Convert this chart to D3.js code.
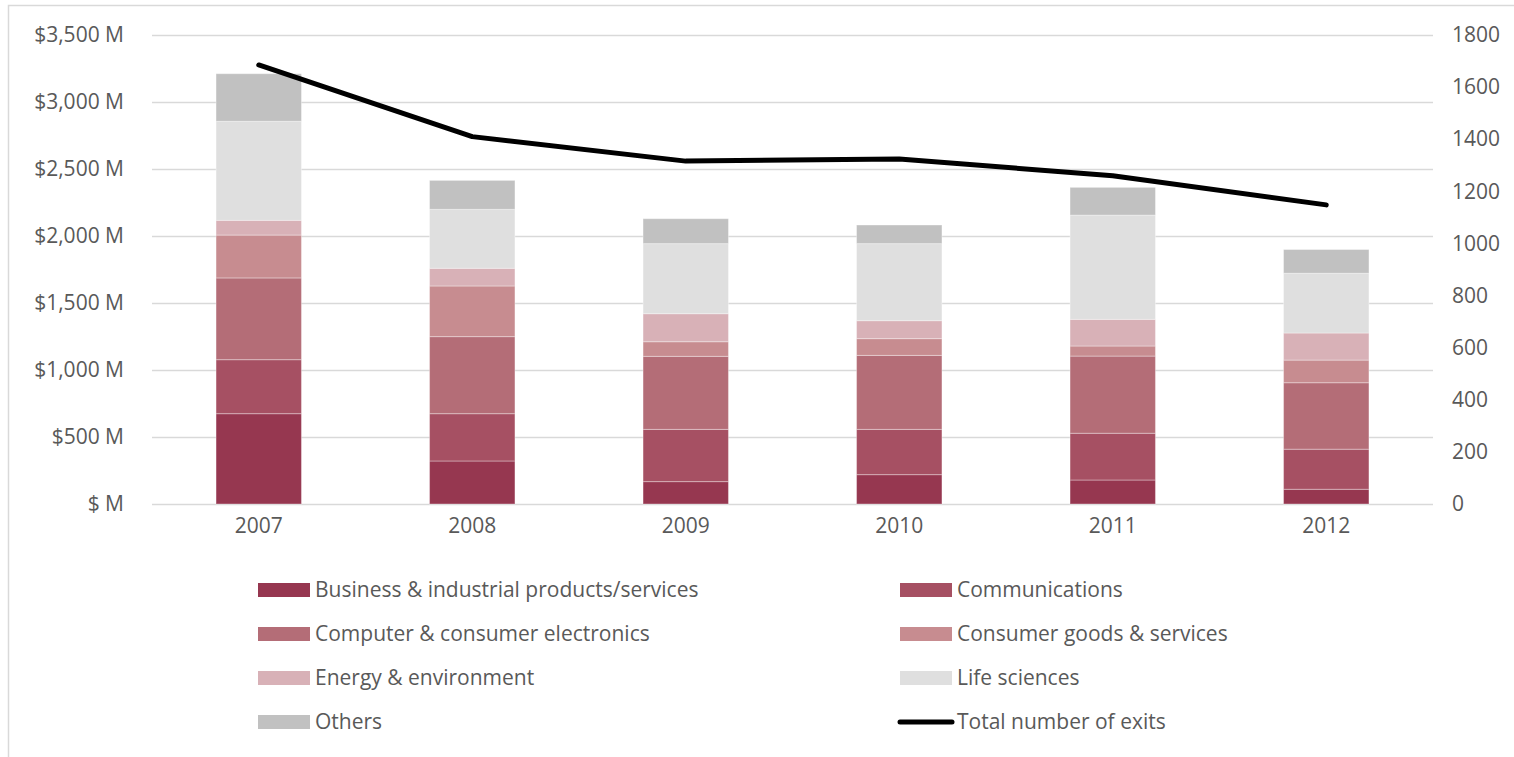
<!DOCTYPE html>
<html>
<head>
<meta charset="utf-8">
<script src="https://cdn.jsdelivr.net/npm/d3@7"></script>
<style>
  body { margin: 0; background: #fff; }
  svg text { font-family: "Open Sans", "Noto Sans", sans-serif; fill: #595959; }
</style>
</head>
<body>
<div id="chart"></div>
<script>
// data (values in $M)
var years = ["2007", "2008", "2009", "2010", "2011", "2012"];
var sectors = [
  "Business & industrial products/services",
  "Communications",
  "Computer & consumer electronics",
  "Consumer goods & services",
  "Energy & environment",
  "Life sciences",
  "Others"
];
var sectorColors = ["#963750", "#a65063", "#b46d77", "#c78c90", "#d8b1b7", "#dfdfdf", "#c1c1c1"];
var business  = [674, 321, 167, 219, 179, 110];
var comms     = [403, 353, 390, 338, 349, 299];
var computer  = [610, 575, 545, 552, 576, 496];
var consumer  = [320, 378, 109, 125, 75, 169];
var energy    = [110, 132, 209, 134, 199, 202];
var life      = [739, 440, 523, 575, 778, 446];
var others    = [355, 216, 186, 139, 207, 177];
var exits     = [1685, 1410, 1316, 1324, 1260, 1148];
var leftTicks = [0, 500, 1000, 1500, 2000, 2500, 3000, 3500];
var rightTicks = [0, 200, 400, 600, 800, 1000, 1200, 1400, 1600, 1800];

var seriesValues = [business, comms, computer, consumer, energy, life, others];

var W = 1514, H = 757;
var margin = { top: 35, right: 81, bottom: 253, left: 152 };
var width = W - margin.left - margin.right,
    height = H - margin.top - margin.bottom;

var svg = d3.select("#chart").append("svg")
  .attr("width", W).attr("height", H);

// chart border (only top and left edges show in the frame)
svg.append("rect")
  .attr("x", 8.5).attr("y", 5.5)
  .attr("width", W + 20).attr("height", H)
  .attr("fill", "none").attr("stroke", "#d9d9d9").attr("stroke-width", 1.5);

var g = svg.append("g")
  .attr("transform", "translate(" + margin.left + "," + margin.top + ")");

var x = d3.scaleBand().domain(years).range([0, width]).paddingInner(0.6).paddingOuter(0.3);
var y = d3.scaleLinear().domain([0, 3500]).range([height, 0]);
var y2 = d3.scaleLinear().domain([0, 1800]).range([height, 0]);

// gridlines
g.append("g").selectAll("line")
  .data(leftTicks)
  .enter().append("line")
  .attr("x1", 0).attr("x2", width)
  .attr("y1", d => Math.round(y(d)) + 0.5).attr("y2", d => Math.round(y(d)) + 0.5)
  .attr("stroke", "#d9d9d9").attr("stroke-width", 1.5);

// stack the data
var rows = years.map(function (yr, i) {
  var r = { year: yr };
  sectors.forEach(function (s, k) { r[s] = seriesValues[k][i]; });
  return r;
});
var stacked = d3.stack().keys(sectors)(rows);

g.append("g").selectAll("g")
  .data(stacked)
  .enter().append("g")
  .attr("fill", (d, i) => sectorColors[i])
  .selectAll("rect")
  .data(d => d)
  .enter().append("rect")
  .attr("x", d => x(d.data.year))
  .attr("width", x.bandwidth())
  .attr("y", d => y(d[1]))
  .attr("height", d => y(d[0]) - y(d[1]))
  .attr("stroke", "rgba(255,255,255,0.35)")
  .attr("stroke-width", 1);

var fs = "21px";

// left axis
var yAxis = g.append("g")
  .call(d3.axisLeft(y).tickValues(leftTicks).tickSize(0).tickPadding(28)
    .tickFormat(d => d === 0 ? "$ M" : "$" + d3.format(",")(d) + " M"));
yAxis.select(".domain").remove();
yAxis.selectAll("text").style("font-size", fs).attr("fill", "#595959");

// right axis
var y2Axis = g.append("g")
  .attr("transform", "translate(" + width + ",0)")
  .call(d3.axisRight(y2).tickValues(rightTicks).tickSize(0).tickPadding(19).tickFormat(d3.format("d")));
y2Axis.select(".domain").remove();
y2Axis.selectAll("text").style("font-size", fs).attr("fill", "#595959");

// x axis
var xAxis = g.append("g")
  .attr("transform", "translate(0," + height + ")")
  .call(d3.axisBottom(x).tickSize(0).tickPadding(14));
xAxis.select(".domain").remove();
xAxis.selectAll("text").style("font-size", fs).attr("fill", "#595959");

// exits line
var line = d3.line()
  .x((d, i) => x(years[i]) + x.bandwidth() / 2)
  .y(d => y2(d));
g.append("path")
  .datum(exits)
  .attr("d", line)
  .attr("fill", "none")
  .attr("stroke", "#000")
  .attr("stroke-width", 5)
  .attr("stroke-linecap", "round")
  .attr("stroke-linejoin", "round");

// legend
var legendItems = sectors.map((s, i) => ({ name: s, color: sectorColors[i], type: "rect" }));
legendItems.push({ name: "Total number of exits", color: "#000", type: "line" });

var legend = svg.append("g");
var li = legend.selectAll("g")
  .data(legendItems)
  .enter().append("g")
  .attr("transform", (d, i) => "translate(" + (i % 2 === 0 ? 258 : 900) + "," + (590 + Math.floor(i / 2) * 44) + ")");

li.filter(d => d.type === "rect").append("rect")
  .attr("x", 0).attr("y", -7).attr("width", 52).attr("height", 14)
  .attr("fill", d => d.color);
li.filter(d => d.type === "line").append("line")
  .attr("x1", 0).attr("x2", 52).attr("y1", 0).attr("y2", 0)
  .attr("stroke", "#000").attr("stroke-width", 5).attr("stroke-linecap", "round");
li.append("text")
  .attr("x", 57).attr("y", 0).attr("dy", "0.35em")
  .style("font-size", fs)
  .text(d => d.name);
</script>
</body>
</html>
